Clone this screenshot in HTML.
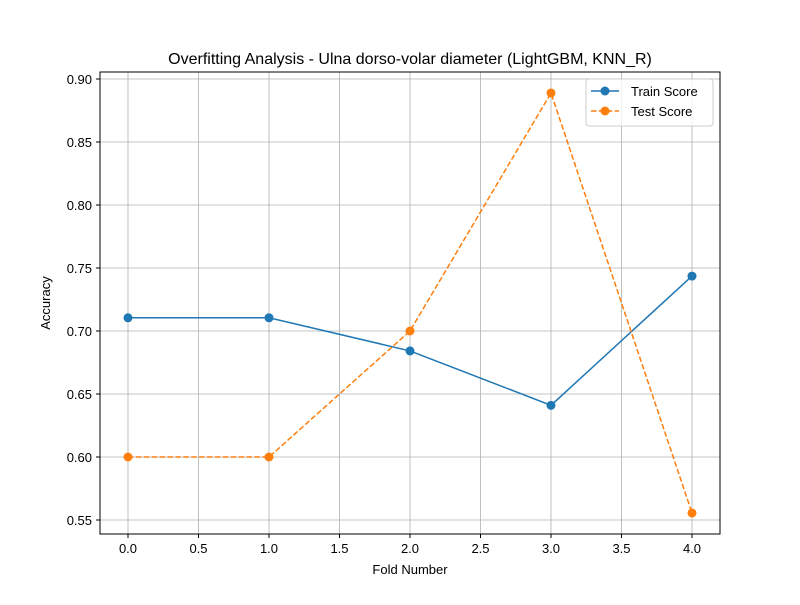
<!DOCTYPE html>
<html><head><meta charset="utf-8"><style>
body{margin:0;background:#fff;}
svg text{font-family:"Liberation Sans","DejaVu Sans",sans-serif;fill:#000;}
</style></head><body>
<svg id="chart" width="800" height="600" xmlns="http://www.w3.org/2000/svg">
<rect width="800" height="600" fill="#fff"/>
<g id="grid"></g>
<g id="ticks"></g>
<rect x="100" y="72" width="620" height="462" fill="none" stroke="#000" stroke-width="1"/>
<g id="series"></g>
<text x="410" y="64" font-size="16" text-anchor="middle">Overfitting Analysis - Ulna dorso-volar diameter (LightGBM, KNN_R)</text>
<text x="410" y="574" font-size="13" text-anchor="middle">Fold Number</text>
<text x="50" y="303" font-size="13" text-anchor="middle" transform="rotate(-90 50 303)">Accuracy</text>
<g>
<rect x="586" y="79" width="127" height="47" rx="3" fill="#fff" fill-opacity="0.8" stroke="#ccc"/>
<g>
<line x1="591" y1="91" x2="619" y2="91" stroke="#1f77b4" stroke-width="1.5"/>
<circle cx="605" cy="91" r="4.5" fill="#1f77b4"/>
<text x="631" y="96" font-size="13">Train Score</text></g>
<g>
<line x1="591" y1="111" x2="619" y2="111" stroke="#ff7f0e" stroke-width="1.5" stroke-dasharray="5.5,2.4"/>
<circle cx="605" cy="111" r="4.5" fill="#ff7f0e"/>
<text x="631" y="116" font-size="13">Test Score</text></g>
</g>
</svg>
<script>
const folds=[0,1,2,3,4];
const trainScores=[0.7105,0.7105,0.6842,0.6410,0.7436];
const testScores=[0.6,0.6,0.7,0.8889,0.5556];
const xTicks=[0,0.5,1,1.5,2,2.5,3,3.5,4];
const yTicks=[0.55,0.60,0.65,0.70,0.75,0.80,0.85,0.90];
const NS="http://www.w3.org/2000/svg";
const X=v=>128+v*141;
const Y=v=>79+(0.9-v)*1260;
function mk(t,a,p){const e=document.createElementNS(NS,t);for(const k in a)e.setAttribute(k,a[k]);p.appendChild(e);return e;}
const grid=document.getElementById('grid'),ticks=document.getElementById('ticks'),series=document.getElementById('series');
xTicks.forEach(v=>{
const g=mk('line',{x1:X(v),x2:X(v),y1:72,y2:534,stroke:'#b0b0b0','stroke-width':0.8},grid);


mk('line',{x1:X(v),x2:X(v),y1:534,y2:538,stroke:'#000'},ticks);
const t=mk('text',{x:X(v),y:553,'font-size':13,'text-anchor':'middle'},ticks);t.textContent=v.toFixed(1);


});
yTicks.forEach(v=>{
const g=mk('line',{x1:100,x2:720,y1:Y(v),y2:Y(v),stroke:'#b0b0b0','stroke-width':0.8},grid);


mk('line',{x1:96,x2:100,y1:Y(v),y2:Y(v),stroke:'#000'},ticks);
const t=mk('text',{x:92,y:Y(v)+5,'font-size':13,'text-anchor':'end'},ticks);t.textContent=v.toFixed(2);


});
function draw(vals,color,dash,name){
const pts=folds.map((f,i)=>X(f)+','+Y(vals[i])).join(' ');
const a={points:pts,fill:'none',stroke:color,'stroke-width':1.5};if(dash)a['stroke-dasharray']=dash;
const l=mk('polyline',a,series);


folds.forEach((f,i)=>{const c=mk('circle',{cx:X(f),cy:Y(vals[i]),r:4.5,fill:color},series);

});
}
draw(trainScores,'#1f77b4',null,'train-score');
draw(testScores,'#ff7f0e','5.5,2.4','test-score');
</script>
</body></html>
